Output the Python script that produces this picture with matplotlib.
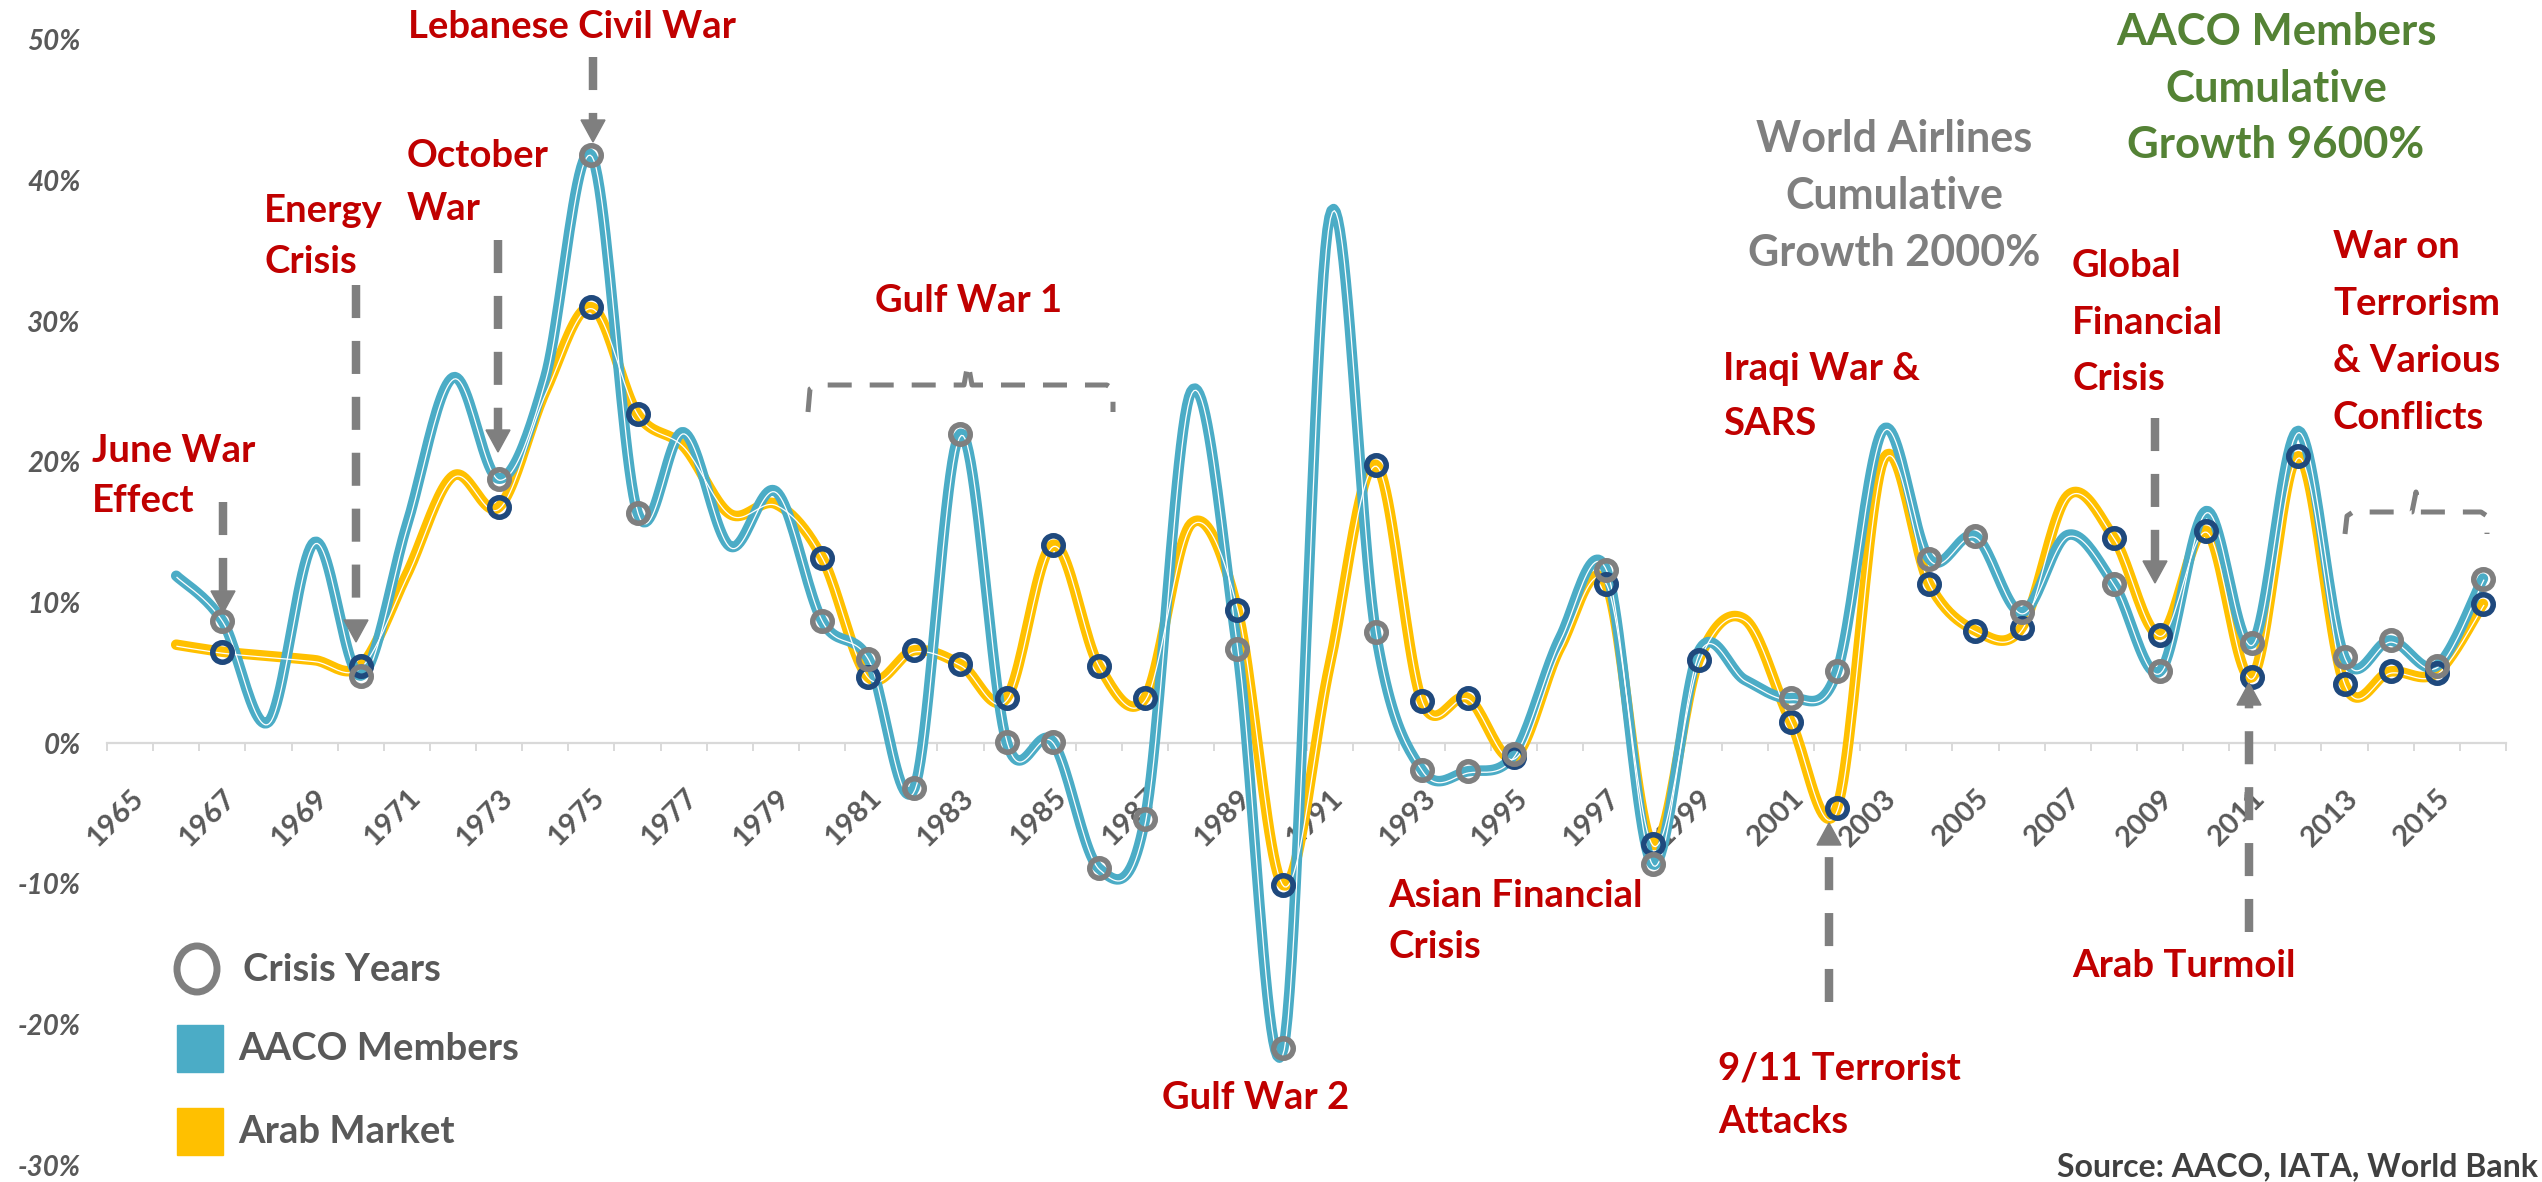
import matplotlib
matplotlib.use("Agg")
import matplotlib.pyplot as plt
import numpy as np
from matplotlib.lines import Line2D
from matplotlib.patches import Polygon, Rectangle, Ellipse
from matplotlib.transforms import Affine2D, offset_copy, ScaledTranslation

W, H = 2542, 1182

# yearly growth, %
years = list(range(1966, 2017))
aaco = [11.9, 8.7, 1.5, 14.3, 4.8, 15.5, 26.0, 18.8, 26.0, 41.8,
        16.4, 22.1, 14.0, 17.9, 8.7, 6.0, -3.2, 22.0, 0.1, 0.1,
        -8.9, -5.4, 25.0, 6.7, -21.7, 37.4, 7.9, -1.9, -2.0, -0.8,
        7.5, 12.3, -8.6, 6.5, 4.5, 3.2, 5.1, 22.3, 13.1, 14.7,
        9.3, 14.8, 11.3, 5.1, 16.5, 7.1, 22.2, 6.1, 7.3, 5.5,
        11.7]
arab = [7.0, 6.5, 6.2, 5.9, 5.5, 12.0, 19.0, 16.8, 25.0, 31.0,
        23.4, 21.1, 16.3, 17.0, 13.2, 4.7, 6.6, 5.6, 3.2, 14.1,
        5.5, 3.2, 15.6, 9.5, -10.1, 5.5, 19.8, 3.0, 3.2, -1.0,
        6.8, 11.3, -7.2, 5.9, 8.8, 1.5, -4.6, 20.1, 11.3, 8.0,
        8.2, 17.6, 14.6, 7.7, 15.1, 4.7, 20.4, 4.2, 5.1, 5.0,
        9.9]
crisis_aaco = [1967, 1970, 1973, 1975, 1976, 1980, 1981, 1982, 1983, 1984,
               1985, 1986, 1987, 1989, 1990, 1992, 1993, 1994, 1995, 1997,
               1998, 2001, 2002, 2004, 2005, 2006, 2008, 2009, 2011, 2013,
               2014, 2015, 2016]
crisis_arab = crisis_aaco + [1999, 2010, 2012]
xtick_years = list(range(1965, 2016, 2))
ytick_vals = [-30, -20, -10, 0, 10, 20, 30, 40, 50]
ytick_labels = ['-30%', '-20%', '-10%', '0%', '10%', '20%', '30%', '40%', '50%']

BLUE = '#4BACC6'
YELLOW = '#FFC000'
GREY = '#7F7F7F'
NAVY = '#1F497D'
RED = '#C00000'
TXT = '#595959'

plt.rcParams['font.family'] = ['Lato', 'DejaVu Sans']
plt.rcParams['axes.unicode_minus'] = False


def smooth(xs, ys, n=24):
    # Excel-style smoothed line (Catmull-Rom as cubic Bezier)
    p = np.column_stack([xs, ys]).astype(float)
    p = np.vstack([p[0], p, p[-1]])
    t = np.linspace(0, 1, n)[:, None]
    segs = []
    for i in range(1, len(p) - 2):
        p0, p1, p2, p3 = p[i - 1], p[i], p[i + 1], p[i + 2]
        c1 = p1 + (p2 - p0) / 6
        c2 = p2 - (p3 - p1) / 6
        segs.append((1 - t) ** 3 * p1 + 3 * (1 - t) ** 2 * t * c1
                    + 3 * (1 - t) * t ** 2 * c2 + t ** 3 * p2)
    out = np.vstack(segs)
    return out[:, 0], out[:, 1]


fig = plt.figure(figsize=(W / 100, H / 100), dpi=100)
ref = Affine2D().scale(1 / W, -1 / H).translate(0, 1) + fig.transFigure

ax = fig.add_axes([107 / W, 1 - 1165 / H, 2399 / W, 1125 / H])
ax.set_xlim(-0.5, 51.5)
ax.set_ylim(-30, 50)

x = np.array(years) - 1965
white_tr = offset_copy(ax.transData, fig=fig, x=0.8, y=-1.6, units='dots')
for vals, col in [(arab, YELLOW), (aaco, BLUE)]:
    sx, sy = smooth(x, vals)
    ax.plot(sx, sy, color=col, lw=7.6, solid_capstyle='round', zorder=3)
    ax.plot(sx, sy, color='white', lw=0.9, transform=white_tr, zorder=3.1)

ya = {y: v for y, v in zip(years, arab)}
yb = {y: v for y, v in zip(years, aaco)}
ax.plot([c - 1965 for c in crisis_arab], [ya[c] for c in crisis_arab], 'o',
        ms=14, mfc='none', mec=NAVY, mew=4, zorder=4, clip_on=False)
ax.plot([c - 1965 for c in crisis_aaco], [yb[c] for c in crisis_aaco], 'o',
        ms=14, mfc='none', mec=GREY, mew=4, zorder=5, clip_on=False)

# axes styling
for s in ['top', 'right', 'left']:
    ax.spines[s].set_visible(False)
ax.spines['bottom'].set_position(('data', 0))
ax.spines['bottom'].set_color('#D9D9D9')
ax.spines['bottom'].set_linewidth(1.6)
ax.set_xticks([y - 1965 for y in xtick_years])
ax.set_xticklabels([str(y) for y in xtick_years], rotation=45, ha='right',
                   va='top', rotation_mode='anchor', fontsize=21,
                   color=TXT, fontweight='bold')
shift = ScaledTranslation(9 / 100, 0, fig.dpi_scale_trans)
for lab in ax.get_xticklabels():
    lab.set_transform(lab.get_transform() + shift)
ax.set_xticks(np.arange(-0.5, 52, 1), minor=True)
ax.tick_params(axis='x', which='major', length=0, pad=30)
ax.tick_params(axis='x', which='minor', length=6, width=1.4,
               color='#D9D9D9', direction='out')
ax.set_yticks(ytick_vals)
ax.set_yticklabels(ytick_labels, fontsize=20, color=TXT,
                   fontweight='bold', fontstyle='italic')
ax.tick_params(axis='y', length=0, pad=19)


def arrow(xp, y_tail, y_tip, head=22, hw=12):
    d = 1 if y_tip > y_tail else -1
    base = y_tip - d * head
    fig.add_artist(Line2D([xp, xp], [y_tail, base], transform=ref, color=GREY,
                          lw=6.1, linestyle=(0, (3.9, 2.7)), zorder=6))
    fig.add_artist(Polygon([(xp - hw, base), (xp + hw, base), (xp, y_tip)],
                           closed=True, transform=ref, color=GREY, zorder=6))


arrow(223, 502, 613)
arrow(356, 285, 642)
arrow(498, 240, 452)
arrow(593, 57, 142)
arrow(2155, 418, 583)
arrow(1829, 1002, 823)
arrow(2249, 932, 683)


def bracket(x0, x1, xm, yl, yend, ytop):
    pts = [(x0, yend), (x0 + 2, yl + 4), (x0 + 8, yl), (xm - 4, yl),
           (xm, ytop), (xm + 4, yl), (x1 - 6, yl), (x1, yl + 4), (x1, yend)]
    fig.add_artist(Line2D([p[0] for p in pts], [p[1] for p in pts], transform=ref,
                          color=GREY, lw=3.6, linestyle=(0, (4.8, 3.6)), zorder=6))


bracket(808, 1113, 968, 385, 412, 363)
bracket(2345, 2487, 2416, 512, 534, 492)


def put(lines, xp, base, step, size, color, ha='left'):
    for k, s in enumerate(lines):
        fig.text(xp, base + k * step, s, transform=ref, fontsize=size,
                 color=color, fontweight='bold', ha=ha, va='baseline', zorder=7)


put(['Lebanese Civil War'], 408, 38, 0, 27.5, RED)
put(['October', 'War'], 407, 167, 53, 27.5, RED)
put(['Energy', 'Crisis'], 264, 222, 51, 27.5, RED)
put(['June War', 'Effect'], 92, 462, 50, 27.5, RED)
put(['Gulf War 1'], 875, 312, 0, 27.5, RED)
put(['Gulf War 2'], 1162, 1109, 0, 27.5, RED)
put(['Asian Financial', 'Crisis'], 1388, 907, 51, 27.5, RED)
put(['9/11 Terrorist', 'Attacks'], 1718, 1080, 53, 27.5, RED)
put(['Arab Turmoil'], 2072, 977, 0, 27.5, RED)
put(['Iraqi War &', 'SARS'], 1723, 380, 55, 27.5, RED)
put(['Global', 'Financial', 'Crisis'], 2072, 277, 56.5, 27.5, RED)
put(['War on', 'Terrorism', '& Various', 'Conflicts'], 2333, 258, 57, 27.5, RED)
put(['World Airlines', 'Cumulative', 'Growth 2000%'], 1894, 152, 57, 31, GREY, 'center')
put(['AACO Members', 'Cumulative', 'Growth 9600%'], 2276, 45, 56.5, 31.5, '#548235', 'center')

# legend
fig.add_artist(Ellipse((197, 969), 40, 46, transform=ref, fill=False,
                       edgecolor=GREY, lw=5))
fig.add_artist(Rectangle((177, 1025), 46, 47, transform=ref, color=BLUE))
fig.add_artist(Rectangle((177, 1108), 46, 47, transform=ref, color=YELLOW))
put(['Crisis Years'], 243, 981, 0, 27.5, TXT)
put(['AACO Members'], 238, 1060, 0, 27.5, TXT)
put(['Arab Market'], 238, 1143, 0, 27.5, TXT)

put(['Source: AACO, IATA, World Bank'], 2538, 1176, 0, 23, '#404040', 'right')

fig.savefig('out.png', dpi=100)
